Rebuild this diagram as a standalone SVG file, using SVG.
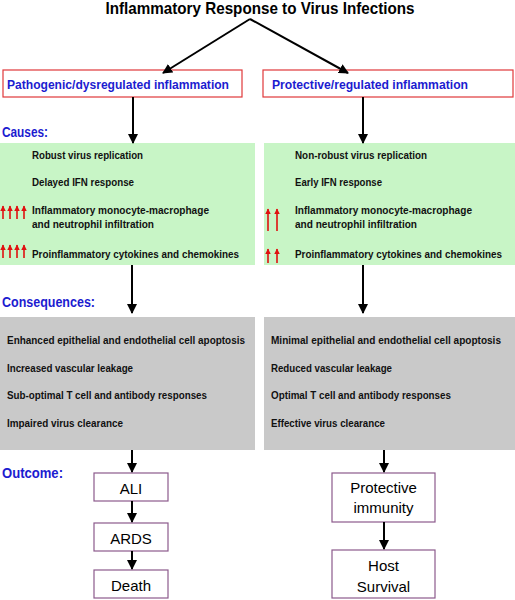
<svg xmlns="http://www.w3.org/2000/svg" width="515" height="600" viewBox="0 0 515 600">
<defs>
<style>
text{font-family:"Liberation Sans",Arial,sans-serif}
.title{font-size:16.5px;font-weight:bold;fill:#000}
.hdr{font-size:12px;font-weight:bold;fill:#1c1cd0}
.sec{font-size:14px;font-weight:bold;fill:#1c1cd0}
.item{font-size:10.5px;font-weight:bold;fill:#111}
.out{font-size:15px;fill:#000;text-anchor:middle}
.redbox{fill:#fff;stroke:#e0383a;stroke-width:1.2}
.green{fill:#c8f5c6}
.gray{fill:#c9c9c9}
.obox{fill:#fff;stroke:#8c5a8c;stroke-width:1.2}
.conn{stroke:#000;stroke-width:2;fill:none}
.red{stroke:#e01010;stroke-width:1.6;fill:none}
</style>
<marker id="ah" viewBox="0 0 10 10" refX="9" refY="5" markerWidth="5" markerHeight="5" orient="auto" markerUnits="strokeWidth">
<path d="M0,0 L10,5 L0,10 z" fill="#000"/>
</marker>
<marker id="rh" viewBox="0 0 10 10" refX="9" refY="5" markerWidth="3.4" markerHeight="3.4" orient="auto" markerUnits="strokeWidth">
<path d="M0,0 L10,5 L0,10 z" fill="#e01010"/>
</marker>
</defs>

<g id="title"><text class="title" x="260" y="14" text-anchor="middle" textLength="309" lengthAdjust="spacingAndGlyphs">Inflammatory Response to Virus Infections</text></g>

<g id="path-box"><rect class="redbox" x="3" y="70" width="239" height="27"/><text class="hdr" x="7" y="89" textLength="222" lengthAdjust="spacingAndGlyphs">Pathogenic/dysregulated inflammation</text></g>
<g id="prot-box"><rect class="redbox" x="263" y="70" width="250" height="27"/><text class="hdr" x="272" y="89" textLength="196" lengthAdjust="spacingAndGlyphs">Protective/regulated inflammation</text></g>

<g id="causes-label"><text class="sec" x="2" y="137" textLength="46" lengthAdjust="spacingAndGlyphs">Causes:</text></g>

<g id="causes-left">
<rect class="green" x="0" y="143" width="255" height="122"/>
<text class="item" x="32" y="159" textLength="111" lengthAdjust="spacingAndGlyphs">Robust virus replication</text>
<text class="item" x="32" y="186" textLength="102" lengthAdjust="spacingAndGlyphs">Delayed IFN response</text>
<text class="item" x="32" y="214" textLength="177" lengthAdjust="spacingAndGlyphs">Inflammatory monocyte-macrophage</text>
<text class="item" x="32" y="228" textLength="122" lengthAdjust="spacingAndGlyphs">and neutrophil infiltration</text>
<text class="item" x="32" y="258" textLength="207" lengthAdjust="spacingAndGlyphs">Proinflammatory cytokines and chemokines</text>
<g class="arrows-up">
<line class="red" x1="3" y1="219" x2="3" y2="206" marker-end="url(#rh)"/>
<line class="red" x1="10" y1="219" x2="10" y2="206" marker-end="url(#rh)"/>
<line class="red" x1="17" y1="219" x2="17" y2="206" marker-end="url(#rh)"/>
<line class="red" x1="24" y1="219" x2="24" y2="206" marker-end="url(#rh)"/>
<line class="red" x1="3" y1="258" x2="3" y2="245" marker-end="url(#rh)"/>
<line class="red" x1="10" y1="258" x2="10" y2="245" marker-end="url(#rh)"/>
<line class="red" x1="17" y1="258" x2="17" y2="245" marker-end="url(#rh)"/>
<line class="red" x1="24" y1="258" x2="24" y2="245" marker-end="url(#rh)"/>
</g>
</g>

<g id="causes-right">
<rect class="green" x="264" y="143" width="251" height="122"/>
<text class="item" x="295" y="159" textLength="132" lengthAdjust="spacingAndGlyphs">Non-robust virus replication</text>
<text class="item" x="295" y="186" textLength="87" lengthAdjust="spacingAndGlyphs">Early IFN response</text>
<text class="item" x="295" y="214" textLength="177" lengthAdjust="spacingAndGlyphs">Inflammatory monocyte-macrophage</text>
<text class="item" x="295" y="228" textLength="122" lengthAdjust="spacingAndGlyphs">and neutrophil infiltration</text>
<text class="item" x="295" y="258" textLength="207" lengthAdjust="spacingAndGlyphs">Proinflammatory cytokines and chemokines</text>
<g class="arrows-up">
<line class="red" x1="268" y1="231" x2="268" y2="209" marker-end="url(#rh)"/>
<line class="red" x1="277" y1="231" x2="277" y2="209" marker-end="url(#rh)"/>
<line class="red" x1="268" y1="263" x2="268" y2="249" marker-end="url(#rh)"/>
<line class="red" x1="277" y1="263" x2="277" y2="249" marker-end="url(#rh)"/>
</g>
</g>

<g id="conseq-label"><text class="sec" x="2" y="307" textLength="93" lengthAdjust="spacingAndGlyphs">Consequences:</text></g>

<g id="conseq-left">
<rect class="gray" x="0" y="317" width="255" height="133"/>
<text class="item" x="7" y="344" textLength="238" lengthAdjust="spacingAndGlyphs">Enhanced epithelial and endothelial cell apoptosis</text>
<text class="item" x="7" y="372" textLength="126" lengthAdjust="spacingAndGlyphs">Increased vascular leakage</text>
<text class="item" x="7" y="399" textLength="200" lengthAdjust="spacingAndGlyphs">Sub-optimal T cell and antibody responses</text>
<text class="item" x="7" y="427" textLength="116" lengthAdjust="spacingAndGlyphs">Impaired virus clearance</text>
</g>

<g id="conseq-right">
<rect class="gray" x="264" y="317" width="251" height="133"/>
<text class="item" x="271" y="344" textLength="230" lengthAdjust="spacingAndGlyphs">Minimal epithelial and endothelial cell apoptosis</text>
<text class="item" x="271" y="372" textLength="121" lengthAdjust="spacingAndGlyphs">Reduced vascular leakage</text>
<text class="item" x="271" y="399" textLength="180" lengthAdjust="spacingAndGlyphs">Optimal T cell and antibody responses</text>
<text class="item" x="271" y="427" textLength="114" lengthAdjust="spacingAndGlyphs">Effective virus clearance</text>
</g>

<g id="outcome-label"><text class="sec" x="2" y="478" textLength="61" lengthAdjust="spacingAndGlyphs">Outcome:</text></g>

<g id="ali"><rect class="obox" x="94" y="473" width="74" height="28"/><text class="out" x="131" y="494">ALI</text></g>
<g id="ards"><rect class="obox" x="94" y="523" width="74" height="28"/><text class="out" x="131" y="544">ARDS</text></g>
<g id="death"><rect class="obox" x="94" y="570" width="74" height="28"/><text class="out" x="131" y="591">Death</text></g>
<g id="immunity"><rect class="obox" x="332" y="473" width="103" height="49"/><text class="out" x="383.5" y="493">Protective</text><text class="out" x="383.5" y="513">immunity</text></g>
<g id="survival"><rect class="obox" x="332" y="550" width="103" height="48"/><text class="out" x="383.5" y="571">Host</text><text class="out" x="383.5" y="592">Survival</text></g>

<g id="connectors">
<line class="conn" x1="250" y1="19" x2="163" y2="73" marker-end="url(#ah)"/>
<line class="conn" x1="250" y1="19" x2="348" y2="73" marker-end="url(#ah)"/>
<line class="conn" x1="133" y1="97" x2="133" y2="143" marker-end="url(#ah)"/>
<line class="conn" x1="363" y1="97" x2="363" y2="143" marker-end="url(#ah)"/>
<line class="conn" x1="132" y1="265" x2="132" y2="313" marker-end="url(#ah)"/>
<line class="conn" x1="363" y1="265" x2="363" y2="313" marker-end="url(#ah)"/>
<line class="conn" x1="132" y1="450" x2="132" y2="472" marker-end="url(#ah)"/>
<line class="conn" x1="132" y1="501" x2="132" y2="522" marker-end="url(#ah)"/>
<line class="conn" x1="132" y1="551" x2="132" y2="569" marker-end="url(#ah)"/>
<line class="conn" x1="384" y1="450" x2="384" y2="472" marker-end="url(#ah)"/>
<line class="conn" x1="384" y1="522" x2="384" y2="549" marker-end="url(#ah)"/>
</g>
</svg>
